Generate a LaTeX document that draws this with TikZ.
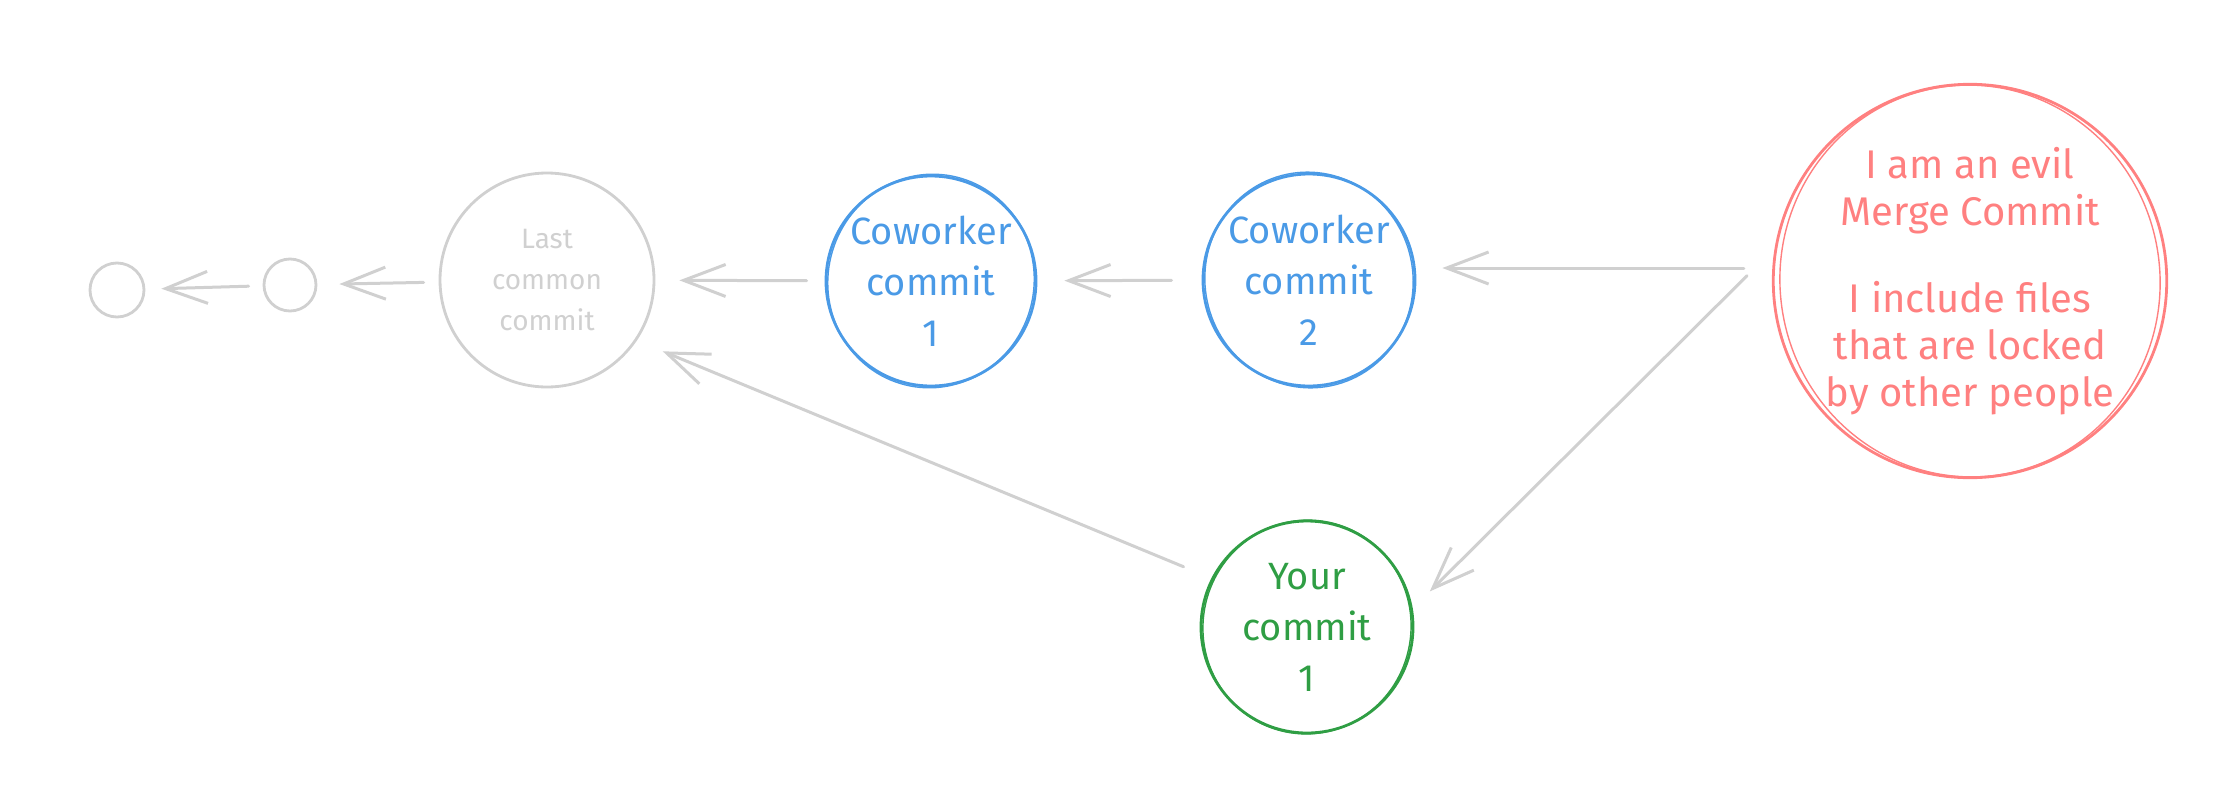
\documentclass[tikz,border=0pt]{standalone}
\usepackage{fontspec}
\setmainfont{Fira Sans}
\usetikzlibrary{arrows.meta}
\definecolor{lgray}{RGB}{208,208,208}
\definecolor{cblue}{RGB}{74,154,230}
\definecolor{cgreen}{RGB}{47,158,68}
\definecolor{cred}{RGB}{255,128,128}
\begin{document}
\begin{tikzpicture}[x=1pt,y=-1pt,
  commit/.style={circle, draw, line width=2.8pt, inner sep=0pt, align=center,
    font=\fontsize{38}{51}\selectfont},
  sketch/.style={line width=1.4pt},
  arr/.style={draw=lgray, line width=3pt, line cap=round,
    -{Straight Barb[length=42pt,width=32pt]}}]
\useasboundingbox (0,0) rectangle (2238,809);
% nodes
\node[commit, lgray, minimum size=54pt] (a) at (117,290) {};
\node[commit, lgray, minimum size=52pt] (b) at (290,285) {};
\node[commit, lgray, minimum size=214pt, font=\fontsize{28}{41}\selectfont] (l) at (547,280) {Last\\common\\commit};
\node[commit, cblue, minimum size=210pt] (c1) at (931,281) {Coworker\\commit\\1};
\node[commit, cblue, minimum size=212pt] (c2) at (1309,280) {Coworker\\commit\\2};
\node[commit, cgreen, minimum size=212pt] (y) at (1307,627) {Your\\commit\\1};
\node[commit, cred, minimum size=388pt, font=\fontsize{40}{47}\selectfont] (m) at (1970,281)
  {I am an evil\\Merge Commit\\[40pt]I include files\\that are locked\\by other people};
% sketchy second strokes
\draw[sketch, cblue] (c1.center) ellipse [x radius=103, y radius=107, rotate=-14];
\draw[sketch, cblue] (c2.center) ellipse [x radius=104, y radius=108, rotate=12];
\draw[sketch, cgreen] (y.center) ellipse [x radius=104, y radius=107, rotate=-10];
\draw[sketch, cred] (m.center) ellipse [x radius=190, y radius=196, rotate=8];
% connectors
\draw[arr, shorten <=14pt, shorten >=16pt] (b) -- (a);
\draw[arr, shorten <=15pt, shorten >=22pt] (l) -- (b);
\draw[arr, shorten <=18pt, shorten >=24pt] (c1) -- (l);
\draw[arr, shorten <=30pt, shorten >=27pt] (c2) -- (c1);
\draw[arr, shorten <=28pt, shorten >=26pt] ([yshift=13pt]m.west) -- ([yshift=12pt]c2.east);
\draw[arr, shorten <=35pt, shorten >=24pt] ([yshift=30pt]m.west) -- (y.10);
\draw[arr, shorten <=30pt, shorten >=28pt] (y.153) -- (l.-34);
\end{tikzpicture}
\end{document}
